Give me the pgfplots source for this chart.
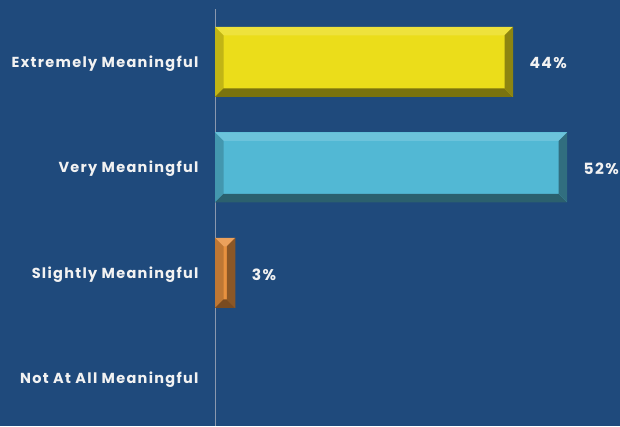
\documentclass[border=0pt]{standalone}
\usepackage{pgfplots}
\pgfplotsset{compat=1.18}
\usepackage{fontspec}
\setmainfont{Poppins}[LetterSpace=9]

\definecolor{bg}{HTML}{1F4A7C}
\definecolor{ybar}{HTML}{EBDD1A}
\definecolor{cbar}{HTML}{52B8D4}
\definecolor{obar}{HTML}{E8913F}
\definecolor{axline}{HTML}{8A98AE}
\definecolor{txt}{HTML}{F2F2F2}

\newif\ifinbevel
% bevelled bar: light top, shaded left, dark bottom and right
\tikzset{
  bevel/.style={
  fill=#1, draw=none,
  path picture={\ifinbevel\else\inbeveltrue
    \def\b{8.5pt}
    \coordinate (nw) at (path picture bounding box.north west);
    \coordinate (ne) at (path picture bounding box.north east);
    \coordinate (sw) at (path picture bounding box.south west);
    \coordinate (se) at (path picture bounding box.south east);
    \fill[#1!85!white] (nw) -- (ne) -- ([shift={(-\b,-\b)}]ne) -- ([shift={(\b,-\b)}]nw) -- cycle;
    \fill[#1!82!black] (nw) -- ([shift={(\b,-\b)}]nw) -- ([shift={(\b,\b)}]sw) -- (sw) -- cycle;
    \fill[#1!52!black] (sw) -- (se) -- ([shift={(-\b,\b)}]se) -- ([shift={(\b,\b)}]sw) -- cycle;
    \fill[#1!60!black] (ne) -- (se) -- ([shift={(-\b,\b)}]se) -- ([shift={(-\b,-\b)}]ne) -- cycle;
  \fi}}}

\begin{document}
\begin{tikzpicture}
\useasboundingbox (0,0) rectangle (620pt,426pt);
\fill[bg] (0,0) rectangle (620pt,426pt);
\begin{axis}[
  at={(215pt,417pt)}, anchor=north west,
  scale only axis,
  width=405pt, height=417pt,
  xbar, bar width=70pt, bar shift=0pt,
  y dir=reverse,
  xmin=0, xmax=59.8,
  ymin=-0.5, ymax=3.45,
  axis x line=none,
  axis y line*=left,
  y axis line style={axline, line width=0.6pt, -},
  ytick={0,1,2,3},
  yticklabels={Extremely Meaningful, Very Meaningful, Slightly Meaningful, Not At All Meaningful},
  major tick length=0pt,
  yticklabel style={font=\bfseries\fontsize{14.5}{16}\selectfont, text=txt, xshift=-13pt, yshift=-1.5pt},
  /pgf/number format/assume math mode=true,
  nodes near coords={\pgfmathprintnumber{\pgfplotspointmeta}\%},
  nodes near coords style={font=\bfseries\fontsize{15.5}{17}\selectfont, text=txt, anchor=west, xshift=13pt, yshift=-1.5pt},
  point meta=x,
  clip=false,
]
\addplot[bevel=ybar] coordinates {(44,0)};
\addplot[bevel=cbar] coordinates {(52,1)};
\addplot[bevel=obar] coordinates {(3,2)};
\end{axis}
\end{tikzpicture}
\end{document}
